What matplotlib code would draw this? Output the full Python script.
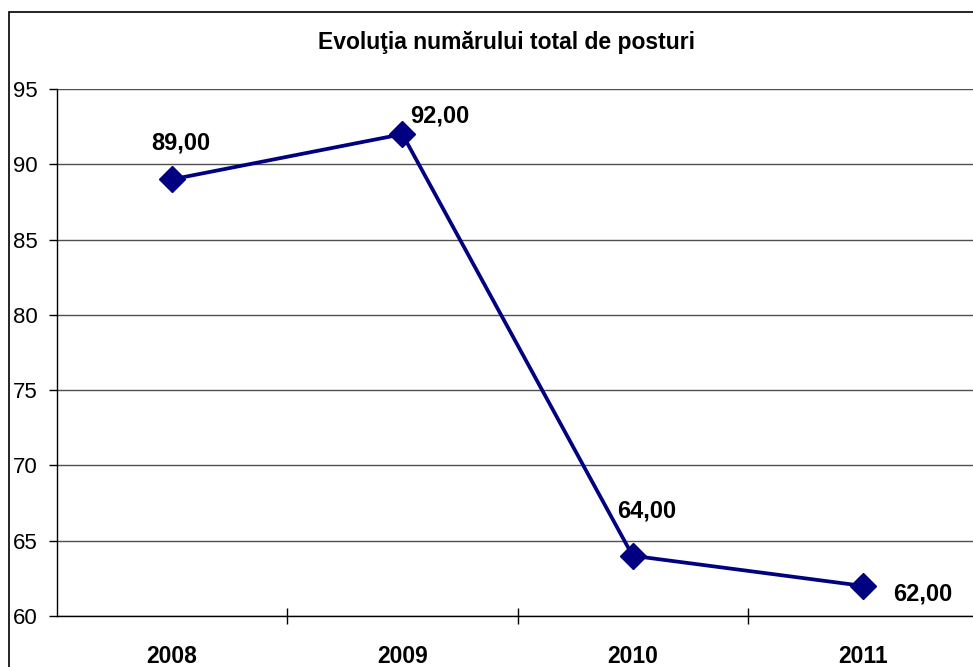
import matplotlib
matplotlib.use("Agg")
import matplotlib.pyplot as plt
import matplotlib.patches as mpatches

years  = ["2008", "2009", "2010", "2011"]
posts  = [89.0, 92.0, 64.0, 62.0]
labels = ["89,00", "92,00", "64,00", "62,00"]
yticks = [60, 65, 70, 75, 80, 85, 90, 95]

W, H = 973, 667
plt.rcParams['font.family'] = ['Liberation Sans', 'DejaVu Sans']

fig = plt.figure(figsize=(W / 100, H / 100), dpi=100)
ax  = fig.add_axes((57 / W, 1 - 616 / H, (978 - 57) / W, (616 - 89) / H))

# outer chart border (right and bottom edges fall outside the picture)
fig.patches.append(mpatches.Rectangle((8.5 / W, -0.1), 1.2, 1 - 11.5 / H + 0.1,
                                      transform=fig.transFigure, fill=False,
                                      edgecolor='black', linewidth=1.2))

x = list(range(len(years)))
ax.plot(x, posts, color='#000080', linewidth=2.7, marker='D', markersize=13,
        markerfacecolor='#000080', markeredgecolor='#000080', zorder=3)

# label offsets in points
offsets = [(6, 26.5), (27, 13), (10, 32.5), (43, -6)]
for xi, yi, lab, off in zip(x, posts, labels, offsets):
    ax.annotate(lab, (xi, yi), xytext=off, textcoords='offset points',
                ha='center', va='center', fontsize=17, fontweight='bold')

ax.set_xlim(-0.5, 3.5)
ax.set_ylim(60, 95)
ax.set_yticks(yticks)
ax.set_yticklabels([str(v) for v in yticks], fontsize=16)
ax.yaxis.grid(True, color='#505050', linewidth=1)
ax.set_axisbelow(True)

ax.set_xticks(x)
ax.set_xticklabels(years, fontsize=16.5, fontweight='bold')
ax.tick_params(axis='x', which='major', length=0, pad=21)
ax.set_xticks([0.5, 1.5, 2.5], minor=True)
ax.tick_params(axis='x', which='minor', direction='inout', length=12, width=1)
ax.tick_params(axis='y', direction='out', length=6, width=1, pad=8)

for side in ['top', 'right']:
    ax.spines[side].set_visible(False)
ax.spines['left'].set_linewidth(1)
ax.spines['bottom'].set_linewidth(1)

fig.text(506 / W, 1 - 42 / H, "Evoluţia numărului total de posturi",
         ha='center', va='center', fontsize=16.5, fontweight='bold')

fig.savefig("out.png", dpi=100)
